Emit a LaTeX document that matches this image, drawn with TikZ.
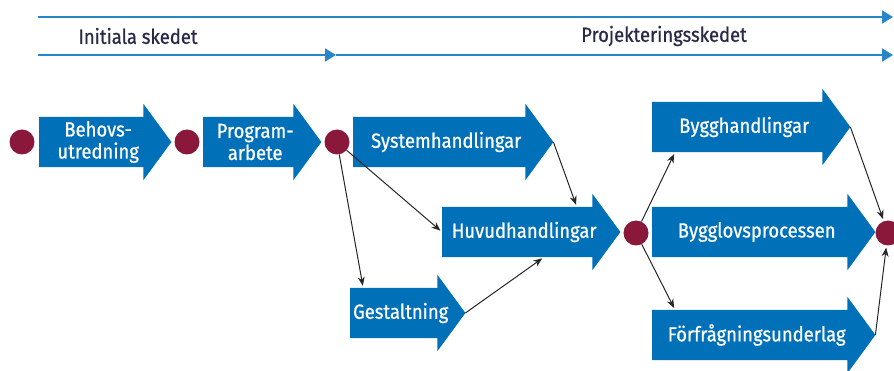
\documentclass[tikz,border=0pt]{standalone}
\usepackage{fontspec}
\setmainfont{Fira Sans}[FakeStretch=0.9,FakeBold=0.7]
\usepackage{tikz}
\usetikzlibrary{arrows.meta,calc,positioning}
\definecolor{flowblue}{RGB}{0,112,184}
\definecolor{lineblue}{RGB}{38,134,200}
\definecolor{dotred}{RGB}{138,24,58}
\definecolor{navy}{RGB}{40,40,72}
\tikzset{
    fas/.style={
           rectangle,
           text=white,
           minimum height=50pt,
           inner sep=0pt,
           anchor=west,
           align=center,
           font=\fontsize{20.5}{22}\selectfont,
           append after command={\pgfextra{
               \edef\fasname{\tikzlastnode}
               \fill[flowblue] (\fasname.north west)
                   -- ($(\fasname.north east)+(-14,0)$) -- ++(0,-13)
                   -- ($(\fasname.east)+(14,0)$)
                   -- ($(\fasname.south east)+(-14,13)$)
                   -- ($(\fasname.south east)+(-14,0)$)
                   -- (\fasname.south west) -- cycle;
               \coordinate (\fasname-tip) at ($(\fasname.east)+(14,0)$);
           }},
           },
    dot/.style={
           circle,
           fill=dotred,
           minimum size=25pt,
           inner sep=0pt,
           },
    pil/.style={
           ->,
           line width=1pt,
           draw=black!85,
           shorten >=2pt,
           },
    tid/.style={
           line width=1.8pt,
           draw=lineblue,
           -{Triangle[length=11pt,width=13pt]},
           },
    skede/.style={
           text=navy,
           font=\fontsize{20.5}{22}\selectfont,
           }
}

\begin{document}
\begin{tikzpicture}[x=1pt,y=-1pt,>={Stealth[length=9pt,width=7pt]}]
\useasboundingbox (0,0) rectangle (894,371);
% tidslinjer
\coordinate (t1) at (38,17);
\coordinate (t1e) at (893,17);
\coordinate (t2) at (38,55);
\coordinate (t2m) at (336,55);
\coordinate (t2e) at (893,55);
\draw[tid] (t1) -- (t1e);
\draw[tid] (t2) -- (t2m);
\draw[tid] (t2m) -- (t2e);
\node[skede] (init) at (138,36) {Initiala skedet};
\node[skede] (proj) at (664,36) {Projekteringsskedet};
% faser (minimum width = kropp + 14)
\node[dot] (d1) at (22,142) {};
\node[fas, minimum width=118pt] (beh) at (39,142) {Behovs-\\utredning};
\node[dot] (d2) at (187,142) {};
\node[fas, minimum width=104pt] (prog) at (203,142) {Program-\\arbete};
\node[dot] (d3) at (337,142) {};
\node[fas, minimum width=186pt] (sys) at (353,142) {Systemhandlingar};
\node[fas, minimum width=164pt] (huvud) at (442,232) {Huvudhandlingar};
\node[fas, minimum width=101pt] (gest) at (350,313) {Gestaltning};
\node[dot] (d4) at (636,233) {};
\node[fas, minimum width=184pt] (bygg) at (652,127) {Bygghandlingar};
\node[fas, minimum width=209pt] (lov) at (652,232) {Bygglovsprocessen};
\node[fas, minimum width=209pt] (ff) at (652,335) {Förfrågningsunderlag};
\node[dot] (d5) at (888,233) {};
% pilar
\path (d3) edge[pil] ($(gest.north west)!0.13!(gest.north east)$);
\path (d3) edge[pil] (huvud.west);
\path (sys-tip) edge[pil] ($(huvud.north west)!0.82!(huvud.north east)$);
\path (gest-tip) edge[pil] ($(huvud.south west)!0.62!(huvud.south east)$);
\path (d4) edge[pil] ($(bygg.south west)!0.125!(bygg.south east)$);
\path (d4) edge[pil] ($(ff.north west)!0.11!(ff.north east)$);
\path (bygg-tip) edge[pil] (d5);
\path (ff-tip) edge[pil] (d5);
\end{tikzpicture}
\end{document}
